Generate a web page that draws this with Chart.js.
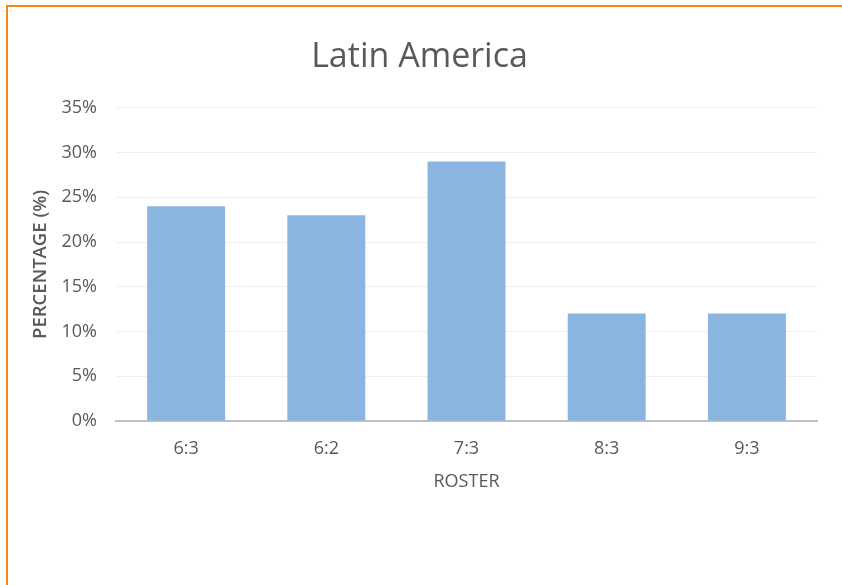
<!DOCTYPE html>
<html>
<head>
<meta charset="utf-8">
<script src="https://cdn.jsdelivr.net/npm/chart.js@4"></script>
<style>
  html, body { margin: 0; padding: 0; background: #fff; }
  #wrap { position: relative; width: 842px; height: 585px; overflow: hidden; }
  #frame {
    position: absolute; left: 6px; top: 5px; width: 900px; height: 700px;
    border-top: 2px solid #fd8411; border-left: 2px solid #fd8411;
    pointer-events: none;
  }
  canvas { position: absolute; left: 0; top: 0; }
</style>
</head>
<body>
<div id="wrap">
  <canvas id="rosterChart" width="842" height="585"></canvas>
  <div id="frame"></div>
</div>
<script>
// roster share, Latin America
const rosters = ['6:3', '6:2', '7:3', '8:3', '9:3'];
const percentages = [24, 23, 29, 12, 12];
const yTicks = [0, 5, 10, 15, 20, 25, 30, 35];

const textColor = '#595959';
const fontFamily = '"Open Sans", "Noto Sans", sans-serif';

const ctx = document.getElementById('rosterChart').getContext('2d');
const rosterChart = new Chart(ctx, {
  type: 'bar',
  data: {
    labels: rosters,
    datasets: [{
      data: percentages,
      backgroundColor: '#8ab5df',
      borderWidth: 0,
      categoryPercentage: 0.556,
      barPercentage: 1
    }]
  },
  options: {
    responsive: false,
    animation: false,
    layout: { padding: { left: 22, right: 25, top: 0, bottom: 92 } },
    plugins: {
      legend: { display: false },
      tooltip: { enabled: false },
      title: {
        display: true,
        text: 'Latin America',
        color: textColor,
        font: { family: fontFamily, size: 34, weight: 'normal' },
        padding: { top: 37, bottom: 30 }
      }
    },
    scales: {
      x: {
        grid: { display: false, drawTicks: false },
        border: { color: '#bfbfbf', width: 2 },
        ticks: {
          color: textColor,
          font: { family: fontFamily, size: 18 },
          padding: 17
        },
        title: {
          display: true,
          text: 'ROSTER',
          color: textColor,
          font: { family: fontFamily, size: 18 },
          padding: { top: 0, bottom: 0 }
        },
        afterFit: (scale) => { scale.height = 72; }
      },
      y: {
        min: 0,
        max: 35,
        afterBuildTicks: (scale) => { scale.ticks = yTicks.map(v => ({ value: v })); },
        grid: { color: '#efefef', lineWidth: 1, drawTicks: false },
        border: { display: false },
        ticks: {
          color: textColor,
          font: { family: fontFamily, size: 18 },
          padding: 19,
          callback: (v) => v + '%'
        },
        title: {
          display: true,
          text: 'PERCENTAGE (%)',
          color: textColor,
          font: { family: fontFamily, size: 18.5, weight: 600 },
          padding: { top: 8, bottom: 0 }
        },
        afterFit: (scale) => { scale.width = 94; }
      }
    }
  }
});
</script>
</body>
</html>
